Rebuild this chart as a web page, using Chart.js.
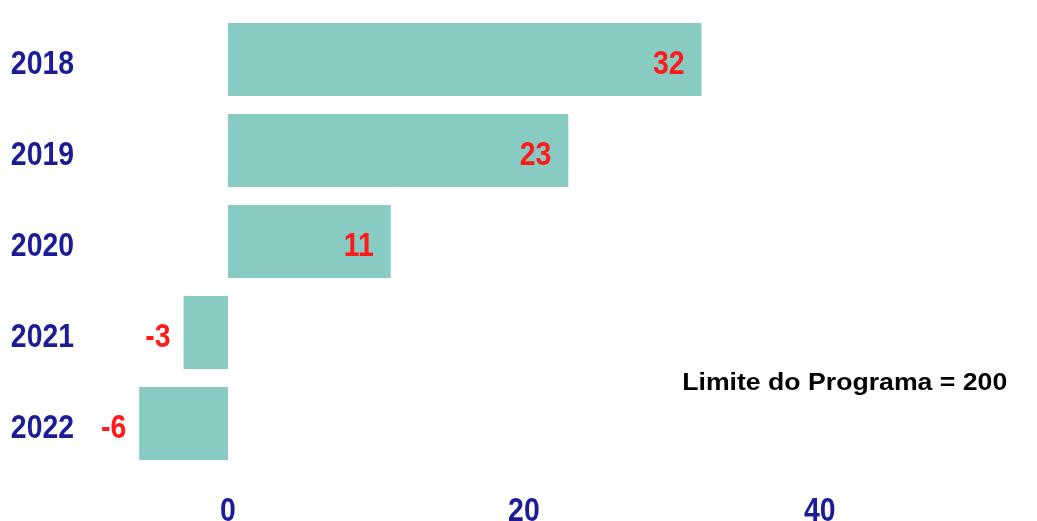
<!DOCTYPE html>
<html>
<head>
<meta charset="utf-8">
<script src="https://cdn.jsdelivr.net/npm/chart.js@4/dist/chart.umd.min.js"></script>
<style>
  html, body { margin: 0; padding: 0; background: #ffffff; }
  #wrap { width: 1037px; height: 521px; position: relative; }
</style>
</head>
<body>
<div id="wrap"><canvas id="c" width="1037" height="521"></canvas></div>
<script>
// Annual balance per year
const years = ['2018', '2019', '2020', '2021', '2022'];
const balances = [32, 23, 11, -3, -6];
const axisTicks = [0, 20, 40];
const noteText = 'Limite do Programa = 200';

const baseFont = "'Liberation Sans', Arial, sans-serif";
const navy = '#1c1c96';
const red = '#ff1a1a';
const barColor = '#87cbc3';

const labelSize = 33;      // px, bold
const condense = 0.86;     // horizontal squeeze for the condensed labels

// Draws text squeezed (or stretched) horizontally by factor k around its anchor
function drawScaled(ctx, text, x, y, align, k) {
  ctx.save();
  ctx.translate(x, y);
  ctx.scale(k, 1);
  ctx.textAlign = align;
  ctx.fillText(text, 0, 0);
  ctx.restore();
}

// Baseline offset that puts the digit centre slightly below a given y
const digitBaseline = (y) => y + labelSize * 0.358 + 3;

// Axis labels drawn from the scales' own tick positions
const axisLabels = {
  id: 'axisLabels',
  afterDraw(chart) {
    const ctx = chart.ctx;
    const xs = chart.scales.x;
    const ys = chart.scales.y;
    ctx.save();
    ctx.font = 'bold ' + labelSize + 'px ' + baseFont;
    ctx.fillStyle = navy;
    ctx.textBaseline = 'alphabetic';
    ys.ticks.forEach((t, i) => {
      const py = ys.getPixelForTick(i);
      drawScaled(ctx, ys.getLabelForValue(t.value), 74, digitBaseline(py), 'right', condense);
    });
    xs.ticks.forEach((t, i) => {
      const px = xs.getPixelForTick(i);
      drawScaled(ctx, String(t.value), px, 521, 'center', condense);
    });
    ctx.restore();
  }
};

// Writes each bar's value: inside the bar end for positives, just outside for negatives
const valueLabels = {
  id: 'valueLabels',
  afterDatasetsDraw(chart) {
    const ctx = chart.ctx;
    const meta = chart.getDatasetMeta(0);
    ctx.save();
    ctx.font = 'bold ' + labelSize + 'px ' + baseFont;
    ctx.fillStyle = red;
    ctx.textBaseline = 'alphabetic';
    meta.data.forEach((bar, i) => {
      const v = balances[i];
      const gap = v >= 0 ? 17 : 13;
      drawScaled(ctx, String(v), bar.x - gap, digitBaseline(bar.y), 'right', condense);
    });
    ctx.restore();
  }
};

// Program limit note inside the plot area
const limitNote = {
  id: 'limitNote',
  afterDraw(chart) {
    const ctx = chart.ctx;
    const xs = chart.scales.x;
    ctx.save();
    ctx.font = 'bold 24px ' + baseFont;
    ctx.fillStyle = '#000000';
    ctx.textBaseline = 'middle';
    drawScaled(ctx, noteText, xs.getPixelForValue(30.7), 383, 'left', 1.11);
    ctx.restore();
  }
};

new Chart(document.getElementById('c'), {
  type: 'bar',
  data: {
    labels: years,
    datasets: [{
      data: balances,
      backgroundColor: barColor,
      borderWidth: 0,
      barPercentage: 0.8,
      categoryPercentage: 1.0
    }]
  },
  options: {
    indexAxis: 'y',
    responsive: false,
    animation: false,
    devicePixelRatio: 1,
    layout: { padding: { top: 14, right: 10, left: 0, bottom: 0 } },
    plugins: {
      legend: { display: false },
      tooltip: { enabled: false }
    },
    scales: {
      x: {
        min: -10,
        max: 54,
        grid: { display: false, drawTicks: false },
        border: { display: false },
        afterFit(scale) { scale.height = 52; },
        afterBuildTicks(scale) { scale.ticks = axisTicks.map(v => ({ value: v })); },
        ticks: { display: false }
      },
      y: {
        grid: { display: false, drawTicks: false },
        border: { display: false },
        afterFit(scale) { scale.width = 80; },
        ticks: { display: false }
      }
    }
  },
  plugins: [valueLabels, axisLabels, limitNote]
});
</script>
</body>
</html>
